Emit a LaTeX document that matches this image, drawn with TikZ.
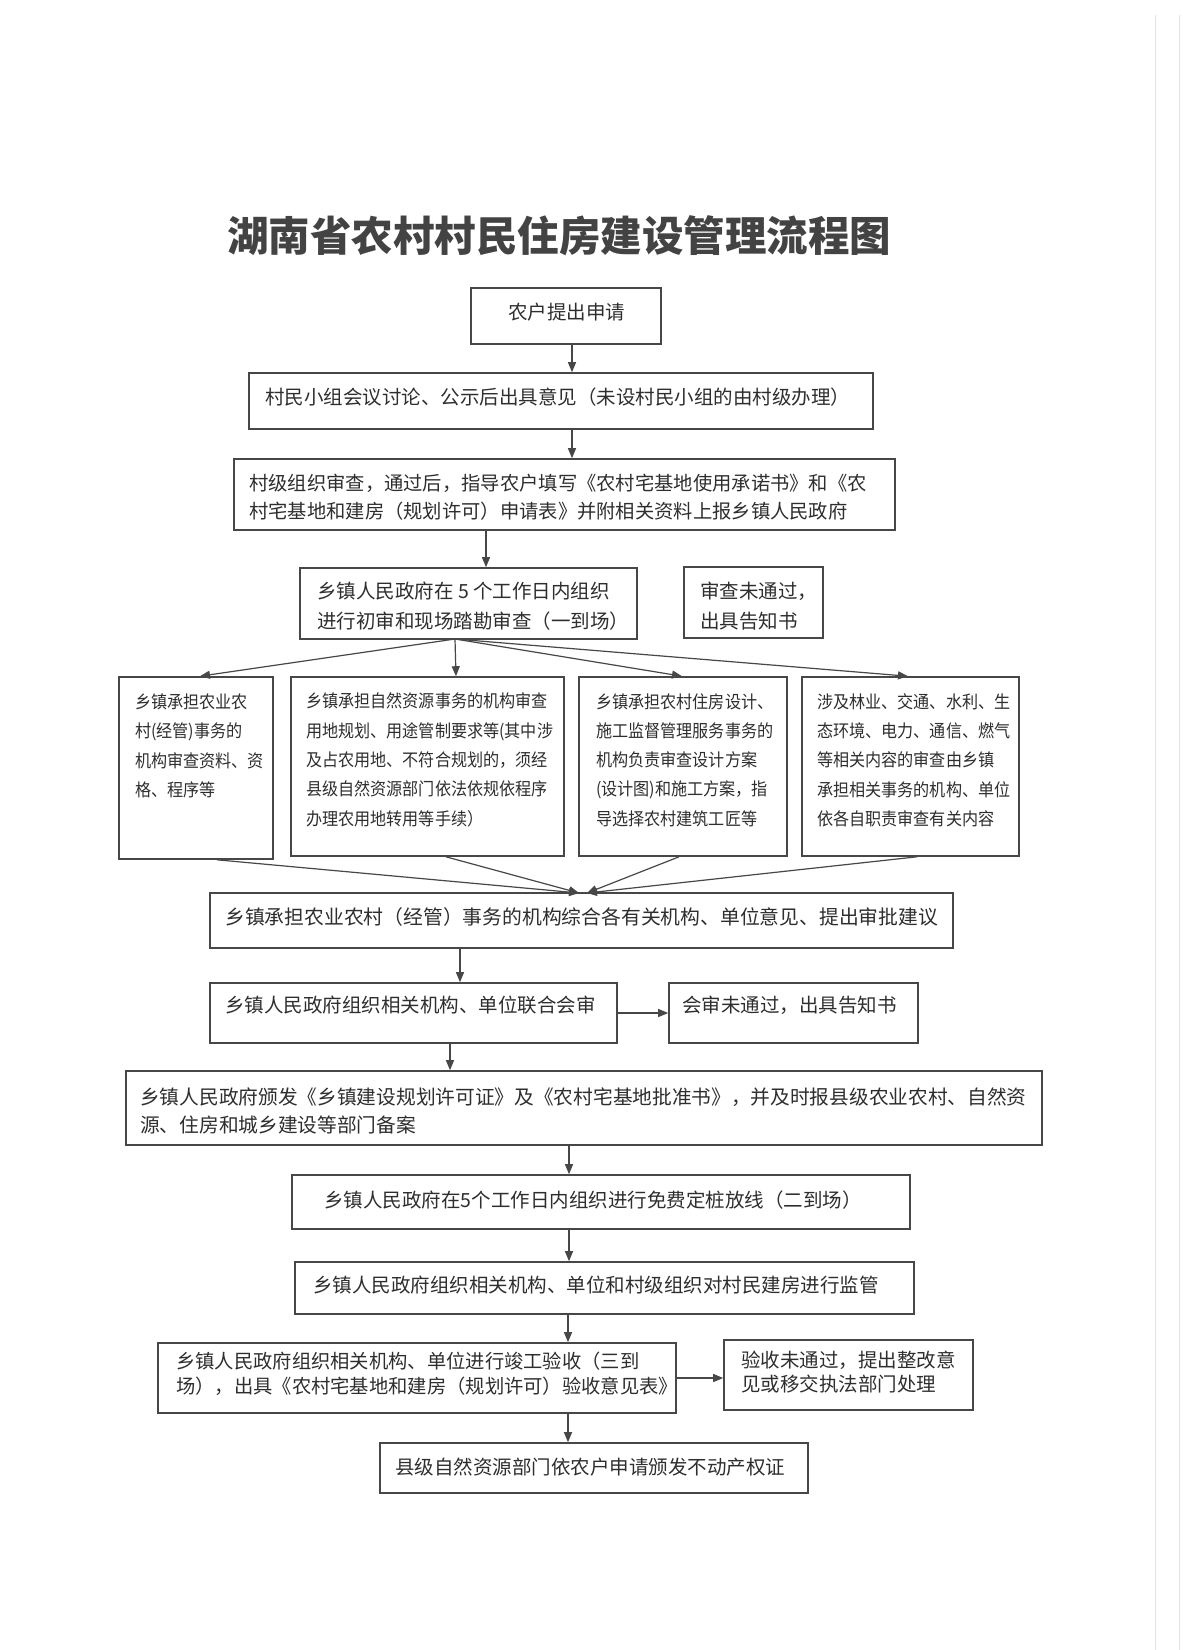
\documentclass[tikz,border=0pt]{standalone}
\usepackage{fontspec}
\setmainfont{Noto Sans CJK SC}
\newfontfamily\cjknarrow[FakeStretch=0.92]{Noto Sans CJK SC}
\usetikzlibrary{arrows.meta}
\definecolor{ink}{HTML}{2E2E2E}
\definecolor{edge}{HTML}{474747}
\definecolor{scan}{HTML}{E4E4E4}
\tikzset{
  box/.style={draw=edge, line width=1.6pt, inner sep=0pt},
  txt/.style={inner sep=0pt, text=ink, font=\fontsize{19.5}{28}\selectfont, align=left, anchor=west},
  ntxt/.style={inner sep=0pt, text=ink, font=\cjknarrow\fontsize{17.5}{29.3}\selectfont, align=left, anchor=west},
  arr/.style={draw=edge, line width=1.2pt, -{Triangle[length=10pt,width=8pt]}},
}
\begin{document}
\begin{tikzpicture}[x=1pt,y=-1pt]
\useasboundingbox[fill=white] (0,0) rectangle (1200,1650);
\draw[scan, line width=0.8pt] (1155,15) -- (1155,1650);
\draw[scan, line width=0.8pt] (1179,15) -- (1179,1650);

% title
\node[inner sep=0pt, text=ink!90, font=\bfseries\fontsize{41.5}{45}\selectfont] (title) at (559,236) {湖南省农村村民住房建设管理流程图};

% boxes
\node[box, minimum width=190pt, minimum height=56pt] (b1) at (566,316) {};
\node[box, minimum width=624pt, minimum height=56pt] (b2) at (561,401) {};
\node[box, minimum width=661pt, minimum height=71pt] (b3) at (564.5,494.5) {};
\node[box, minimum width=337pt, minimum height=71pt] (b4) at (468.5,603.5) {};
\node[box, minimum width=139pt, minimum height=71pt] (b5) at (753.5,602.5) {};
\node[box, minimum width=154pt, minimum height=182pt] (ba) at (196,768) {};
\node[box, minimum width=273pt, minimum height=179pt] (bb) at (427.5,766.5) {};
\node[box, minimum width=208pt, minimum height=179pt] (bc) at (683,766.5) {};
\node[box, minimum width=217pt, minimum height=179pt] (bd) at (910.5,766.5) {};
\node[box, minimum width=743pt, minimum height=55pt] (b7) at (581.5,920.5) {};
\node[box, minimum width=407pt, minimum height=60pt] (b8) at (413.5,1013) {};
\node[box, minimum width=249pt, minimum height=60pt] (b9) at (793.5,1013) {};
\node[box, minimum width=916pt, minimum height=74pt] (b10) at (584,1108) {};
\node[box, minimum width=618pt, minimum height=54pt] (b11) at (601,1202) {};
\node[box, minimum width=619pt, minimum height=52pt] (b12) at (604.5,1288) {};
\node[box, minimum width=518pt, minimum height=70pt] (b13) at (417,1378) {};
\node[box, minimum width=249pt, minimum height=70pt] (b14) at (848.5,1375) {};
\node[box, minimum width=428pt, minimum height=50pt] (b15) at (594,1468) {};

% texts
\node[txt] (t1) at (508,312) {农户提出申请};
\node[txt] (t2) at (265,397) {村民小组会议讨论、公示后出具意见（未设村民小组的由村级办理）};
\node[txt, font=\fontsize{19.3}{28.4}\selectfont] (t3) at (249,497.5) {村级组织审查，通过后，指导农户填写《农村宅基地使用承诺书》和《农\\村宅基地和建房（规划许可）申请表》并附相关资料上报乡镇人民政府};
\node[txt, font=\fontsize{19.5}{30}\selectfont] (t4) at (317,606.5) {乡镇人民政府在 5 个工作日内组织\\进行初审和现场踏勘审查（一到场）};
\node[txt, font=\fontsize{19.5}{30}\selectfont] (t5) at (700,606.5) {审查未通过，\\出具告知书};
\node[ntxt] (ta) at (135,746) {乡镇承担农业农\\村(经管)事务的\\机构审查资料、资\\格、程序等};
\node[ntxt] (tb) at (306,760) {乡镇承担自然资源事务的机构审查\\用地规划、用途管制要求等(其中涉\\及占农用地、不符合规划的，须经\\县级自然资源部门依法依规依程序\\办理农用地转用等手续）};
\node[ntxt] (tc) at (596,760) {乡镇承担农村住房设计、\\施工监督管理服务事务的\\机构负责审查设计方案\\(设计图)和施工方案，指\\导选择农村建筑工匠等};
\node[ntxt] (td) at (817,760) {涉及林业、交通、水利、生\\态环境、电力、通信、燃气\\等相关内容的审查由乡镇\\承担相关事务的机构、单位\\依各自职责审查有关内容};
\node[txt, font=\fontsize{19.8}{28}\selectfont] (t7) at (225,917) {乡镇承担农业农村（经管）事务的机构综合各有关机构、单位意见、提出审批建议};
\node[txt] (t8) at (225,1005) {乡镇人民政府组织相关机构、单位联合会审};
\node[txt] (t9) at (682,1005) {会审未通过，出具告知书};
\node[txt, font=\fontsize{19.7}{28.3}\selectfont] (t10) at (140,1111) {乡镇人民政府颁发《乡镇建设规划许可证》及《农村宅基地批准书》，并及时报县级农业农村、自然资\\源、住房和城乡建设等部门备案};
\node[txt] (t11) at (324,1200) {乡镇人民政府在5个工作日内组织进行免费定桩放线（二到场）};
\node[txt] (t12) at (313,1285) {乡镇人民政府组织相关机构、单位和村级组织对村民建房进行监管};
\node[txt, font=\fontsize{19.3}{25}\selectfont] (t13) at (176,1374) {乡镇人民政府组织相关机构、单位进行竣工验收（三到\\场），出具《农村宅基地和建房（规划许可）验收意见表》};
\node[txt, font=\fontsize{19.5}{23.5}\selectfont] (t14) at (741,1372) {验收未通过，提出整改意\\见或移交执法部门处理};
\node[txt] (t15) at (395,1467) {县级自然资源部门依农户申请颁发不动产权证};

% helper coordinates
\coordinate (x572) at (572,0);
\coordinate (x486) at (486,0);
\coordinate (x460) at (460,0);
\coordinate (x450) at (450,0);
\coordinate (x569) at (569,0);
\coordinate (x568) at (568,0);
\coordinate (y1013) at (0,1013);
\coordinate (y1378) at (0,1378);
\coordinate (fan) at (455,639);
\coordinate (mergeL) at (579,893);
\coordinate (mergeR) at (587,893);

% connectors
\draw[arr] (b1.south -| x572) -- (b2.north -| x572);
\draw[arr] (b2.south -| x572) -- (b3.north -| x572);
\draw[arr] (b3.south -| x486) -- (b4.north -| x486);
\draw[arr] (fan) -- ([xshift=4pt]ba.north);
\draw[arr] (fan) -- ([xshift=28.5pt]bb.north);
\draw[arr] (fan) -- ([xshift=-1pt]bc.north);
\draw[arr] (fan) -- ([xshift=-2.5pt]bd.north);
\draw[arr] ([xshift=21pt]ba.south) -- (mergeL);
\draw[arr] ([xshift=18.5pt]bb.south) -- (mergeL);
\draw[arr] ([xshift=-4pt]bc.south) -- (mergeR);
\draw[arr] ([xshift=6.5pt]bd.south) -- (mergeR);
\draw[arr] (b7.south -| x460) -- (b8.north -| x460);
\draw[arr] (b8.east |- y1013) -- (b9.west |- y1013);
\draw[arr] (b8.south -| x450) -- (b10.north -| x450);
\draw[arr] (b10.south -| x569) -- (b11.north -| x569);
\draw[arr] (b11.south -| x569) -- (b12.north -| x569);
\draw[arr] (b12.south -| x568) -- (b13.north -| x568);
\draw[arr] (b13.east |- y1378) -- (b14.west |- y1378);
\draw[arr] (b13.south -| x568) -- (b15.north -| x568);
\end{tikzpicture}
\end{document}
